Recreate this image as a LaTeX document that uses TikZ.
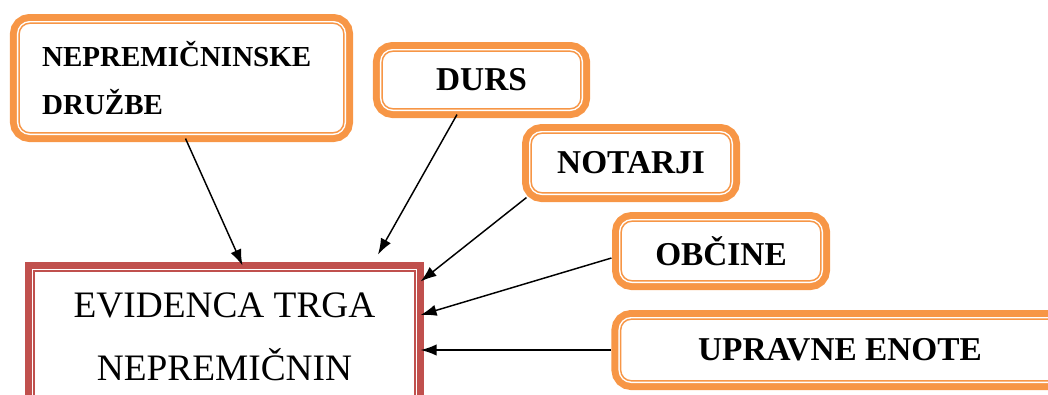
\documentclass[tikz,border=0pt]{standalone}
\usepackage{fontspec}
\setmainfont{Liberation Serif}
\usetikzlibrary{arrows.meta,calc}

\definecolor{boxorange}{RGB}{247,150,70}
\definecolor{boxred}{RGB}{192,80,77}

\tikzset{every picture/.style={line width=0.75pt}}
\tikzset{
	dblframe/.style={draw=#1, line width=1.1pt, fill=white, inner sep=0pt,
		preaction={draw=#1, line width=13.8pt},
		preaction={draw=white, line width=3.3pt}},
	srcbox/.style={dblframe=boxorange, rounded corners=8pt,
		minimum width=149.7pt, minimum height=44.7pt,
		font=\bfseries\fontsize{25}{30}\selectfont},
	feed/.style={-{Latex[length=12pt,width=8.5pt]}, line width=1.1pt}
}

\begin{document}
\begin{tikzpicture}[x=0.75pt,y=0.75pt,yscale=-1,xscale=1]
	\useasboundingbox (0,0) rectangle (1048,394);

	% Boxes
	\node[srcbox, minimum width=243.5pt, minimum height=82.2pt, text width=209pt, align=left,
		font=\bfseries\fontsize{21.75}{36}\selectfont] (druzbe) at (181.5,78) {NEPREMIČNINSKE\\DRUŽBE};
	\node[srcbox, minimum width=149pt, minimum height=43.2pt] (durs) at (481.5,80) {DURS};
	\node[srcbox] (notarji) at (631,163) {NOTARJI};
	\node[srcbox] (obcine) at (721,251) {OBČINE};
	\node[srcbox, minimum width=329pt, minimum height=46.2pt] (upravne) at (840,350) {UPRAVNE ENOTE};
	\node[dblframe=boxred, minimum width=285.5pt, minimum height=98.7pt, align=center,
		font=\fontsize{28}{47}\selectfont] (evidenca) at (224.5,337) {EVIDENCA TRGA\\NEPREMIČNIN};

	% Arrows
	\draw[feed] ($(druzbe.south)+(4,5)$) -- ($(evidenca.north)+(18,-5)$);
	\draw[feed] ($(durs.south)+(-24.5,5)$) -- ($(evidenca.north)+(153.5,-16)$);
	\draw[feed] ($(notarji.south west)+(-4,4)$) -- ($(evidenca.north east)+(5,11)$);
	\draw[feed] ($(obcine.west)+(-9,7)$) -- ($(evidenca.east)+(5,-22)$);
	\draw[feed] ($(upravne.west)+(-9,0)$) -- ($(evidenca.east |- upravne.west)+(5,0)$);

\end{tikzpicture}
\end{document}
